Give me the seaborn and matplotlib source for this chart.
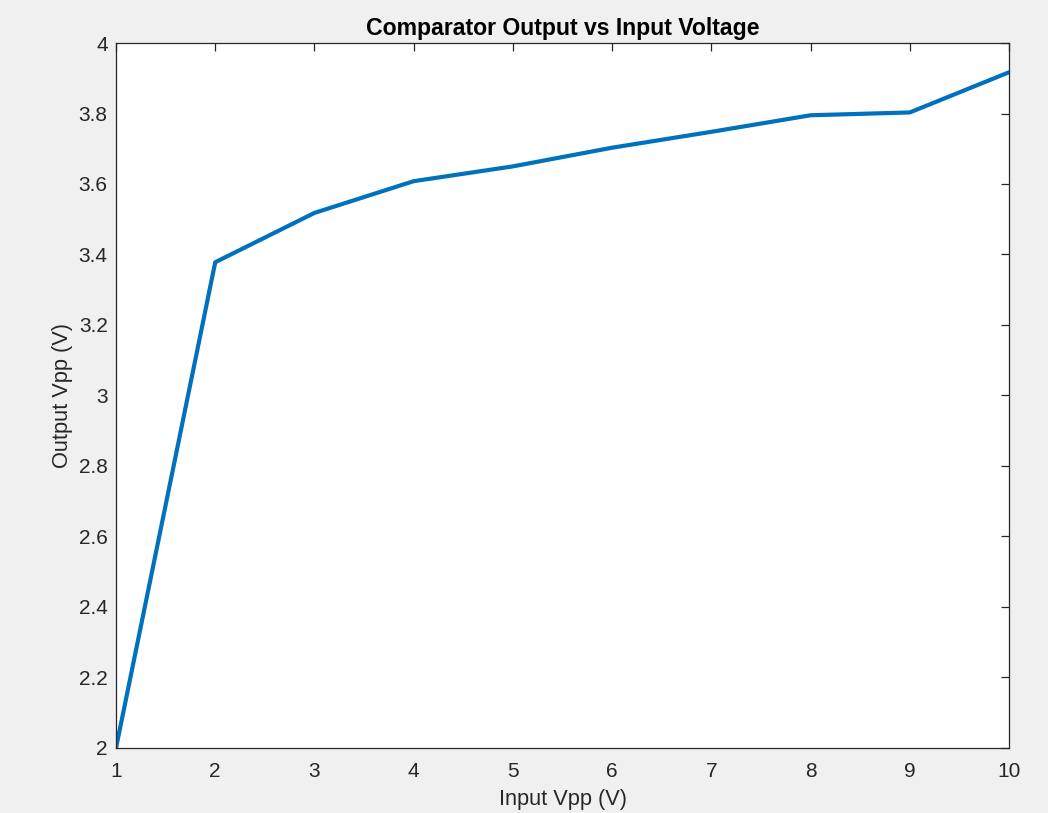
import matplotlib
matplotlib.use("Agg")
import matplotlib.pyplot as plt
import seaborn as sns
import pandas as pd

input_vpp = [1, 2, 3, 4, 5, 6, 7, 8, 9, 10]
output_vpp = [2.0, 3.378, 3.518, 3.608, 3.650, 3.703, 3.748, 3.795, 3.803, 3.917]
x_ticks = [1, 2, 3, 4, 5, 6, 7, 8, 9, 10]
y_ticks = [2, 2.2, 2.4, 2.6, 2.8, 3, 3.2, 3.4, 3.6, 3.8, 4]
y_tick_labels = ["2", "2.2", "2.4", "2.6", "2.8", "3", "3.2", "3.4", "3.6", "3.8", "4"]

sns.set_style("white")
plt.rcParams['font.family'] = ['Liberation Sans', 'DejaVu Sans']

df = pd.DataFrame({"Input Vpp (V)": input_vpp, "Output Vpp (V)": output_vpp})

fig = plt.figure(figsize=(10.48, 8.13), dpi=100, facecolor="#f0f0f0")
ax = fig.add_axes([0.1107, 0.0800, 0.8521, 0.8671])
ax.set_facecolor("white")

sns.lineplot(data=df, x="Input Vpp (V)", y="Output Vpp (V)", ax=ax,
             color="#0072BD", linewidth=3.0)

ax.set_xlim(1, 10)
ax.set_ylim(2, 4)
ax.set_xticks(x_ticks)
ax.set_xticklabels([str(t) for t in x_ticks])
ax.set_yticks(y_ticks)
ax.set_yticklabels(y_tick_labels)

for s in ax.spines.values():
    s.set_visible(True)
    s.set_color("#262626")
    s.set_linewidth(0.9)

ax.tick_params(axis="both", which="major", direction="in", length=6, width=0.9,
               color="#262626", labelcolor="#262626", labelsize=15,
               top=True, right=True)
ax.tick_params(axis="x", pad=10)
ax.tick_params(axis="y", pad=6)

ax.set_xlabel("Input Vpp (V)", fontsize=15.7, color="#262626", labelpad=6)
ax.set_ylabel("Output Vpp (V)", fontsize=15.7, color="#262626", labelpad=4)
ax.set_title("Comparator Output vs Input Voltage", fontsize=16.6, fontweight="bold",
             color="black", pad=6)

fig.savefig("out.png", dpi=100, facecolor=fig.get_facecolor())
